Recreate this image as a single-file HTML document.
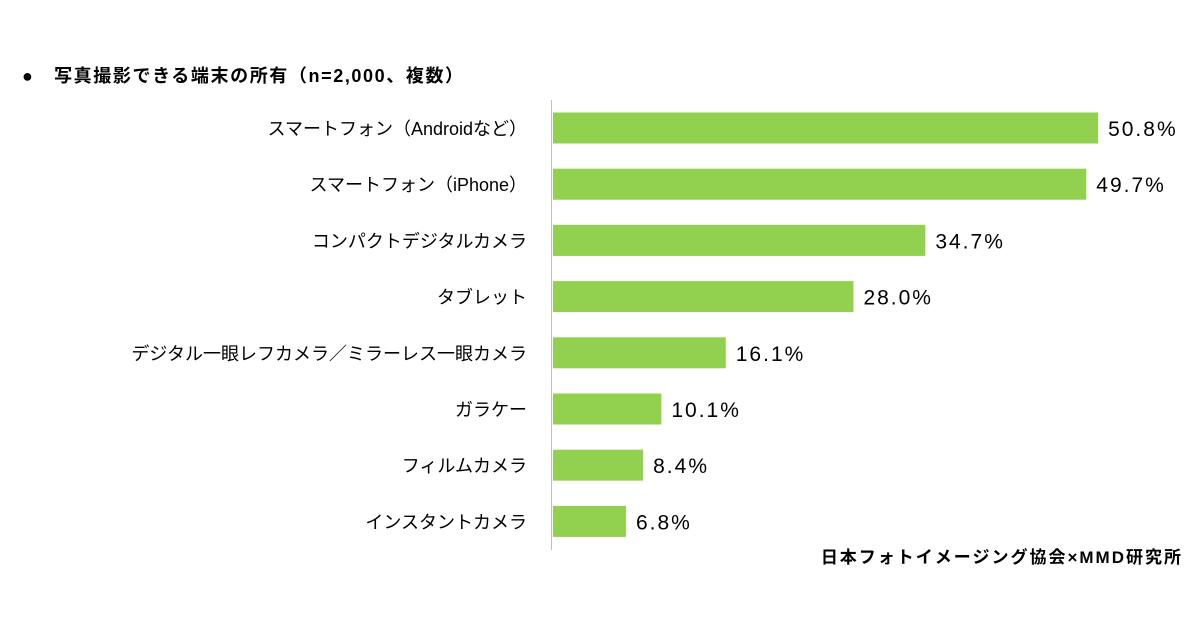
<!DOCTYPE html>
<html><head><meta charset="utf-8"><style>
body{margin:0;width:1200px;height:630px;background:#fff;overflow:hidden;font-family:"Liberation Sans","Noto Sans CJK JP",sans-serif;}
svg text{font-family:"Liberation Sans","Noto Sans CJK JP",sans-serif;}
</style></head><body>
<svg id="chart" width="1200" height="630">
<text x="22" y="82" font-size="18" font-weight="bold" letter-spacing="1.6" fill="#000">●　写真撮影できる端末の所有（n=2,000、複数）</text>
<line x1="551.5" y1="100" x2="551.5" y2="550" stroke="#bfbfbf" stroke-width="1"/>
<g id="bars"></g>
<text x="1183" y="563" font-size="17" font-weight="bold" text-anchor="end" letter-spacing="2" fill="#000">日本フォトイメージング協会×MMD研究所</text>
</svg>
<script>
const categories=["スマートフォン（Androidなど）","スマートフォン（iPhone）","コンパクトデジタルカメラ","タブレット","デジタル一眼レフカメラ／ミラーレス一眼カメラ","ガラケー","フィルムカメラ","インスタントカメラ"];
const values=[50.8,49.7,34.7,28.0,16.1,10.1,8.4,6.8];
const valueLabels=["50.8%","49.7%","34.7%","28.0%","16.1%","10.1%","8.4%","6.8%"];
const NS="http://www.w3.org/2000/svg";
const x0=553, pxPer=10.73;
const xScale=v=>x0+v*pxPer;
const yCenter=i=>128+i*56.2;
const g=document.getElementById("bars");
categories.forEach((c,i)=>{
  const yc=yCenter(i);
  const r=document.createElementNS(NS,"rect");
  r.setAttribute("x",x0);r.setAttribute("y",yc-15.5);
  r.setAttribute("width",xScale(values[i])-x0);r.setAttribute("height",31);
  r.setAttribute("fill","#92d050");
  
  
  g.appendChild(r);
  const t=document.createElementNS(NS,"text");
  t.setAttribute("x",527);t.setAttribute("y",yc+7);t.setAttribute("text-anchor","end");
  t.setAttribute("font-size","18");t.textContent=c;
  
  
  g.appendChild(t);
  const v=document.createElementNS(NS,"text");
  v.setAttribute("x",xScale(values[i])+10);v.setAttribute("y",yc+8);
  v.setAttribute("font-size","21");v.setAttribute("letter-spacing","2");v.textContent=valueLabels[i];
  
  
  g.appendChild(v);
});
</script>
</body></html>
